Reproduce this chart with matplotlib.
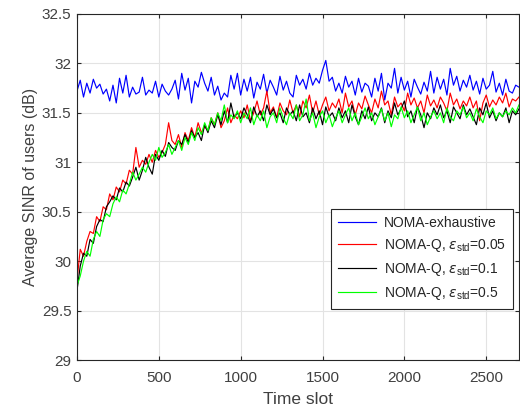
import numpy as np
import matplotlib.pyplot as plt

plt.rcParams['font.family'] = ['Liberation Sans', 'DejaVu Sans']
plt.rcParams['mathtext.fontset'] = 'custom'
plt.rcParams['mathtext.rm'] = 'Liberation Sans'
plt.rcParams['mathtext.it'] = 'DejaVu Sans:italic'

# time slots, one sample every 20 slots
slots = np.arange(0, 2701, 20)

sinr_exhaustive = [
    31.72, 31.83, 31.66, 31.80, 31.70, 31.84, 31.75, 31.79, 31.69, 31.74,
    31.62, 31.78, 31.60, 31.85, 31.70, 31.88, 31.66, 31.76, 31.69, 31.71,
    31.86, 31.68, 31.73, 31.70, 31.82, 31.66, 31.79, 31.72, 31.68, 31.74,
    31.83, 31.64, 31.90, 31.73, 31.85, 31.60, 31.82, 31.76, 31.91, 31.80,
    31.72, 31.86, 31.68, 31.77, 31.63, 31.70, 31.66, 31.88, 31.74, 31.90,
    31.68, 31.84, 31.72, 31.86, 31.65, 31.81, 31.74, 31.89, 31.70, 31.83,
    31.76, 31.68, 31.87, 31.73, 31.82, 31.70, 31.66, 31.88, 31.78, 31.84,
    31.74, 31.90, 31.78, 31.85, 31.80, 31.93, 32.03, 31.82, 31.86, 31.72,
    31.80, 31.70, 31.87, 31.76, 31.82, 31.68, 31.85, 31.71, 31.80, 31.77,
    31.66, 31.85, 31.72, 31.90, 31.63, 31.80, 31.75, 31.95, 31.70, 31.86,
    31.73, 31.82, 31.66, 31.84, 31.76, 31.69, 31.81, 31.72, 31.92, 31.70,
    31.86, 31.74, 31.84, 31.68, 31.95, 31.78, 31.87, 31.72, 31.83, 31.76,
    31.88, 31.73, 31.82, 31.69, 31.85, 31.74, 31.78, 31.92, 31.71, 31.80,
    31.68, 31.84, 31.72, 31.70, 31.78, 31.76,
]

sinr_q005 = [
    29.80, 30.12, 30.05, 30.20, 30.30, 30.28, 30.45, 30.40, 30.55, 30.52,
    30.68, 30.62, 30.75, 30.70, 30.82, 30.78, 30.92, 30.88, 31.15, 30.95,
    31.02, 30.98, 31.08, 31.00, 31.12, 31.05, 31.10, 31.18, 31.40, 31.22,
    31.18, 31.28, 31.15, 31.30, 31.22, 31.35, 31.25, 31.40, 31.30, 31.36,
    31.32, 31.45, 31.38, 31.50, 31.35, 31.42, 31.55, 31.40, 31.48, 31.44,
    31.52, 31.45, 31.58, 31.42, 31.50, 31.62, 31.48, 31.55, 31.72, 31.50,
    31.56, 31.45, 31.60, 31.52, 31.48, 31.63, 31.50, 31.58, 31.46, 31.62,
    31.55, 31.68, 31.50, 31.62, 31.48, 31.58, 31.66, 31.52, 31.60, 31.55,
    31.64, 31.50, 31.70, 31.56, 31.62, 31.48, 31.60, 31.54, 31.67, 31.58,
    31.50, 31.64, 31.55, 31.72, 31.58, 31.62, 31.48, 31.66, 31.56, 31.60,
    31.52, 31.70, 31.58, 31.65, 31.55, 31.62, 31.50, 31.68, 31.57, 31.63,
    31.55, 31.66, 31.60, 31.52, 31.70, 31.58, 31.64, 31.54, 31.62, 31.57,
    31.66, 31.55, 31.62, 31.42, 31.60, 31.68, 31.56, 31.63, 31.58, 31.66,
    31.60, 31.70, 31.56, 31.64, 31.62, 31.66,
]

sinr_q01 = [
    29.70, 29.95, 30.08, 30.05, 30.22, 30.18, 30.35, 30.42, 30.40, 30.55,
    30.60, 30.66, 30.62, 30.74, 30.70, 30.80, 30.76, 30.85, 30.95, 30.82,
    30.92, 31.05, 30.95, 30.88, 31.08, 31.02, 31.12, 31.06, 31.20, 31.15,
    31.12, 31.22, 31.18, 31.28, 31.20, 31.32, 31.25, 31.30, 31.22, 31.38,
    31.30, 31.42, 31.35, 31.48, 31.38, 31.52, 31.40, 31.60, 31.45, 31.50,
    31.44, 31.55, 31.48, 31.40, 31.56, 31.46, 31.52, 31.42, 31.58, 31.48,
    31.54, 31.45, 31.50, 31.40, 31.55, 31.48, 31.52, 31.42, 31.58, 31.46,
    31.50, 31.40, 31.55, 31.44, 31.52, 31.38, 31.56, 31.46, 31.50, 31.42,
    31.55, 31.45, 31.52, 31.40, 31.58, 31.46, 31.38, 31.52, 31.44, 31.56,
    31.42, 31.50, 31.46, 31.55, 31.40, 31.52, 31.45, 31.60, 31.48, 31.54,
    31.62, 31.46, 31.52, 31.40, 31.56, 31.48, 31.35, 31.50, 31.44, 31.55,
    31.48, 31.58, 31.45, 31.52, 31.40, 31.56, 31.50, 31.44, 31.58, 31.48,
    31.54, 31.46, 31.38, 31.55, 31.48, 31.60, 31.45, 31.52, 31.42, 31.50,
    31.46, 31.55, 31.40, 31.52, 31.48, 31.54,
]

sinr_q05 = [
    29.75, 29.85, 30.00, 30.10, 30.05, 30.22, 30.30, 30.25, 30.42, 30.48,
    30.45, 30.58, 30.65, 30.60, 30.72, 30.68, 30.78, 30.90, 30.82, 30.88,
    30.95, 30.90, 31.00, 31.08, 31.02, 31.15, 31.05, 31.10, 31.18, 31.08,
    31.15, 31.22, 31.12, 31.25, 31.18, 31.30, 31.22, 31.35, 31.28, 31.40,
    31.32, 31.45, 31.38, 31.50, 31.42, 31.58, 31.40, 31.48, 31.44, 31.52,
    31.40, 31.50, 31.44, 31.55, 31.38, 31.48, 31.42, 31.52, 31.35, 31.46,
    31.50, 31.40, 31.55, 31.45, 31.38, 31.50, 31.44, 31.58, 31.42, 31.48,
    31.64, 31.42, 31.50, 31.35, 31.46, 31.52, 31.40, 31.48, 31.36, 31.45,
    31.52, 31.40, 31.48, 31.55, 31.42, 31.50, 31.38, 31.46, 31.55, 31.44,
    31.50, 31.38, 31.46, 31.54, 31.42, 31.50, 31.36, 31.48, 31.44, 31.56,
    31.45, 31.52, 31.40, 31.48, 31.56, 31.42, 31.50, 31.38, 31.46, 31.52,
    31.44, 31.50, 31.40, 31.55, 31.46, 31.42, 31.52, 31.48, 31.56, 31.45,
    31.50, 31.42, 31.54, 31.46, 31.40, 31.52, 31.48, 31.55, 31.44, 31.50,
    31.46, 31.52, 31.48, 31.55, 31.50, 31.58,
]

labels = [
    'NOMA-exhaustive',
    r'NOMA-Q, $\varepsilon_{\rm std}$=0.05',
    r'NOMA-Q, $\varepsilon_{\rm std}$=0.1',
    r'NOMA-Q, $\varepsilon_{\rm std}$=0.5',
]
colors = ['#0000ff', '#ff0000', '#000000', '#00ff00']
textc = '#404040'

fig = plt.figure(figsize=(5.2, 4.11), dpi=100)
ax = fig.add_axes([0.148, 0.124, 0.850, 0.842])

for y, lab, c in zip([sinr_exhaustive, sinr_q005, sinr_q01, sinr_q05], labels, colors):
    ax.plot(slots, y, color=c, lw=0.85, label=lab)

ax.set_xlim(0, 2700)
ax.set_ylim(29, 32.5)
ax.set_xticks(np.arange(0, 2501, 500))
ax.set_yticks(np.arange(29, 32.51, 0.5))
ax.set_yticklabels(['29', '29.5', '30', '30.5', '31', '31.5', '32', '32.5'])
ax.grid(True, color='#e3e3e3', lw=0.8)
ax.set_axisbelow(True)
ax.tick_params(direction='in', top=True, right=True, labelsize=11,
               colors='#262626', labelcolor=textc, length=3)
ax.tick_params(axis='x', pad=8)
ax.tick_params(axis='y', pad=4)
for s in ax.spines.values():
    s.set_color('#262626')
    s.set_linewidth(0.8)

ax.set_xlabel('Time slot', fontsize=12.5, color=textc, labelpad=5)
ax.set_ylabel('Average SINR of users (dB)', fontsize=11.5, color=textc, labelpad=3)

leg = ax.legend(loc='lower right', bbox_to_anchor=(0.987, 0.148), borderaxespad=0,
                fontsize=10, fancybox=False, framealpha=1, edgecolor='#262626',
                handlelength=2.7, handletextpad=0.6, borderpad=0.5,
                labelspacing=0.5)
leg.get_frame().set_linewidth(0.8)
for t in leg.get_texts():
    t.set_color('#262626')

fig.savefig('out.png', dpi=100)
